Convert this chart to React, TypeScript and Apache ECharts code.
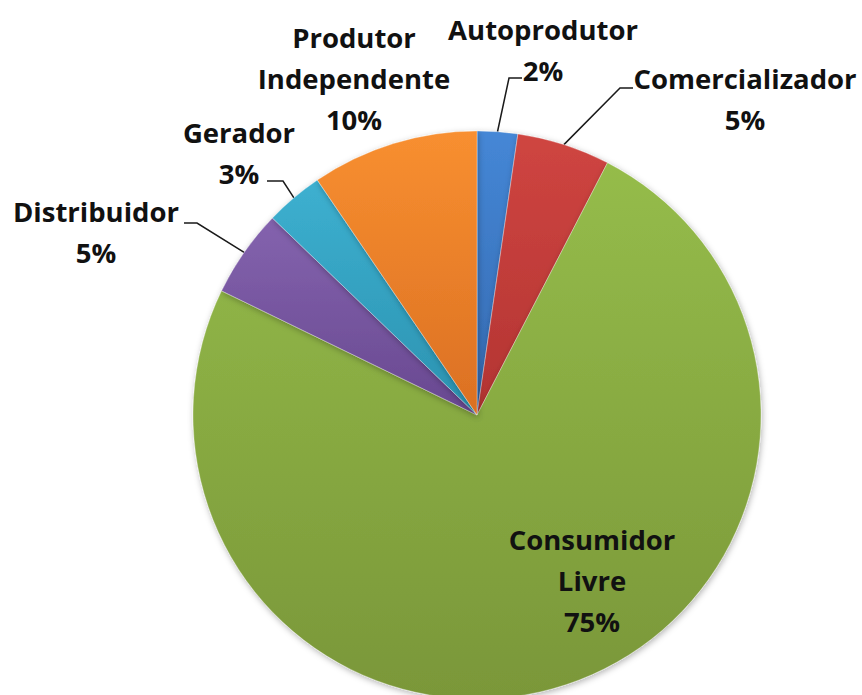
import React, { useEffect, useRef } from "react";
import * as echarts from "echarts";

// Data
const categories = [
  "Autoprodutor",
  "Comercializador",
  "Consumidor Livre",
  "Distribuidor",
  "Gerador",
  "Produtor Independente",
];
const shares = [2.3, 5.3, 74.6, 5.0, 3.3, 9.5];

// Styles (top colour, bottom colour of each slice gradient)
const SLICE_COLORS: [string, string][] = [
  ["#4587D6", "#3469B0"],
  ["#CF4541", "#B33432"],
  ["#95BC4A", "#7A9739"],
  ["#8463AE", "#684890"],
  ["#3DB0D0", "#2B92B0"],
  ["#F88F30", "#DB7023"],
];

// Label placement (layout only)
const LABEL_LAYOUT: { x: number; y: number; elbow?: number[]; end?: number[] }[] = [
  { x: 543, y: 50, elbow: [509, 78], end: [522, 78] },
  { x: 745, y: 99, elbow: [620, 88], end: [633, 88] },
  { x: 592, y: 580 },
  { x: 96, y: 232, elbow: [197, 223], end: [184, 223] },
  { x: 239, y: 153, elbow: [283, 181], end: [267, 181] },
  { x: 354, y: 78 },
];

const NO_LINE = new Set([2, 5]);

export default function App() {
  const ref = useRef<HTMLDivElement>(null);

  useEffect(() => {
    if (!ref.current) return;
    const chart = echarts.init(ref.current, undefined, { renderer: "svg" });

    const data = categories.map((name, i) => ({
      name,
      value: shares[i],
      itemStyle: {
        color: new echarts.graphic.LinearGradient(0, 0, 0, 1, [
          { offset: 0, color: SLICE_COLORS[i][0] },
          { offset: 1, color: SLICE_COLORS[i][1] },
        ]),
      },
      labelLine: NO_LINE.has(i) ? { show: false } : undefined,
    }));

    chart.setOption({
      animation: false,
      backgroundColor: "#ffffff",
      series: [
        {
          type: "pie",
          center: [477, 415],
          radius: 284,
          startAngle: 90,
          clockwise: true,
          avoidLabelOverlap: false,
          emphasis: { disabled: true },
          itemStyle: {
            borderColor: "rgba(255,255,255,0.3)",
            borderWidth: 1,
            shadowBlur: 6,
            shadowColor: "rgba(0,0,0,0.3)",
            shadowOffsetX: 1,
            shadowOffsetY: 2,
          },
          label: {
            show: true,
            position: "outside",
            formatter: (p: any) =>
              `${String(p.name).split(" ").join("\n")}\n${Math.round(p.percent)}%`,
            fontFamily: "Open Sans",
            fontWeight: "bold",
            fontSize: 27.5,
            lineHeight: 41,
            color: "#111111",
            align: "center",
          },
          labelLine: {
            show: true,
            length: 20,
            length2: 12,
            lineStyle: { color: "#1a1a1a", width: 1.5 },
          },
          labelLayout: (params: any) => {
            const cfg = LABEL_LAYOUT[params.dataIndex];
            const out: any = {
              x: cfg.x,
              y: cfg.y,
              align: "center",
              verticalAlign: "middle",
            };
            if (cfg.elbow && cfg.end && params.labelLinePoints && params.labelLinePoints[0]) {
              out.labelLinePoints = [params.labelLinePoints[0], cfg.elbow, cfg.end];
            }
            return out;
          },
          data,
        },
      ],
    });

    return () => chart.dispose();
  }, []);

  return (
    <div
      ref={ref}
      style={{ position: "absolute", left: 0, top: 0, width: 862, height: 695 }}
    />
  );
}
